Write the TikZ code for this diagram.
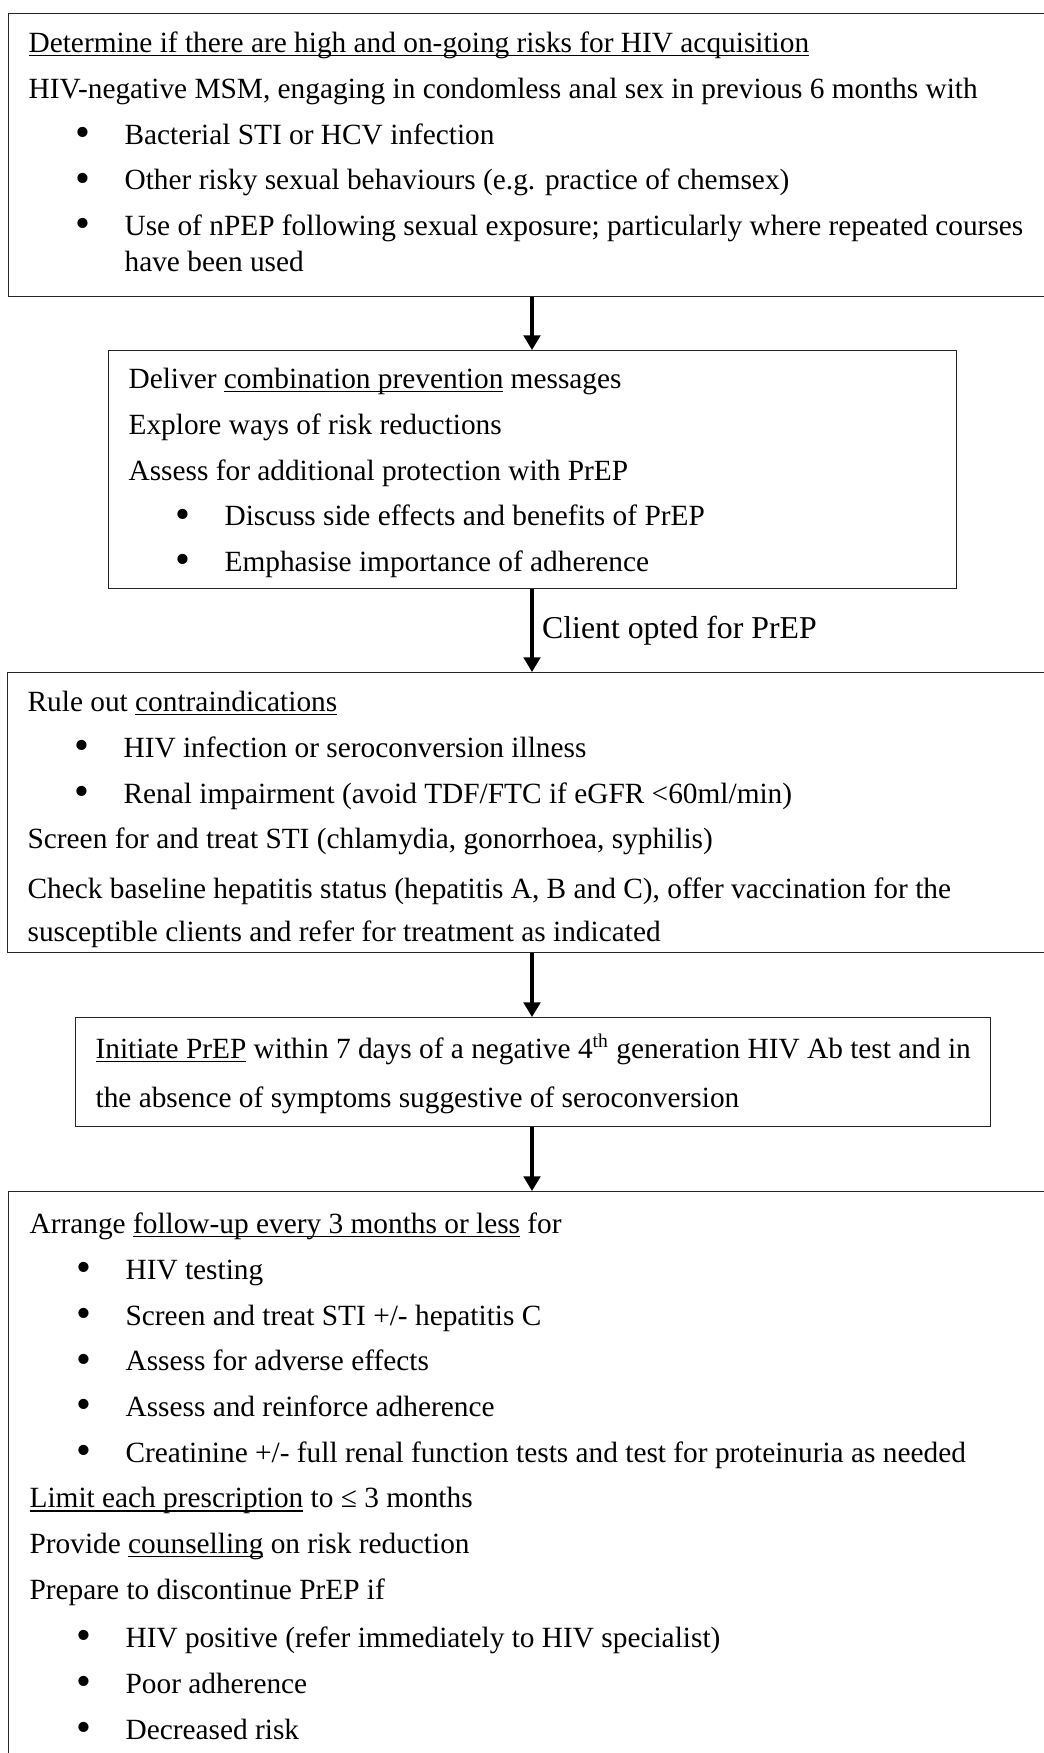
\documentclass[tikz,border=0pt]{standalone}
\usepackage{fontspec}
\usepackage{graphicx}
\setmainfont{Liberation Serif}
\usetikzlibrary{arrows.meta}

\newdimen\px
\px=0.409pt
\newsavebox{\textosub}
\newcommand{\subr}[1]{\sbox{\textosub}{#1}\rlap{\rule[-1.5pt]{\wd\textosub}{0.55pt}}\usebox{\textosub}}
\newcommand{\vineta}[1]{\hspace*{47\px}\makebox[49\px][l]{\raisebox{-0.08em}{\scalebox{1.45}{\textbullet}}}#1}

\begin{document}
\begin{tikzpicture}[x=0.409pt, y=-0.409pt,
    caja/.style={draw=black!85, line width=0.5pt, anchor=north west, inner sep=0pt,
        font=\fontsize{12}{18.7}\selectfont},
    flecha/.style={-{Triangle[length=6pt,width=6.8pt]}, line width=1.3pt}]
    % Fija el tamaño de la figura.
    \useasboundingbox (0,0) rectangle (1043,1753);

    % Eje vertical de las flechas.
    \coordinate (eje) at (532,0);

    % Caja de riesgos.
    \node[caja] (riesgo) at (8,13) {\parbox[t][283\px][t]{1052\px}{\leftskip=20\px
        \rule{0pt}{39\px}\subr{Determine if there are high and on-going risks for HIV acquisition}\\
        HIV-negative MSM, engaging in condomless anal sex in previous 6 months with\\
        \vineta{Bacterial STI or HCV infection}\\
        \vineta{Other risky sexual behaviours (e.g. practice of chemsex)}\\
        \vineta{Use of nPEP following sexual exposure; particularly where repeated courses}\\[-3.8pt]
        \hspace*{96\px}have been used}};

    % Caja de prevención.
    \node[caja] (consejo) at (108,350) {\parbox[t][238\px][t]{848\px}{\leftskip=20\px
        \rule{0pt}{38\px}Deliver \subr{combination prevention} messages\\
        Explore ways of risk reductions\\
        Assess for additional protection with PrEP\\
        \vineta{Discuss side effects and benefits of PrEP}\\
        \vineta{Emphasise importance of adherence}}};

    % Caja de contraindicaciones.
    \node[caja] (contra) at (7,672) {\parbox[t][280\px][t]{1053\px}{\leftskip=20\px
        \rule{0pt}{39\px}Rule out \subr{contraindications}\\
        \vineta{HIV infection or seroconversion illness}\\
        \vineta{Renal impairment (avoid TDF/FTC if eGFR <60ml/min)}\\
        Screen for and treat STI (chlamydia, gonorrhoea, syphilis)\\[1.6pt]
        Check baseline hepatitis status (hepatitis A, B and C), offer vaccination for the\\[-1.2pt]
        susceptible clients and refer for treatment as indicated}};

    % Caja de inicio.
    \node[caja] (inicio) at (75,1017) {\parbox[t][109\px][t]{915\px}{\leftskip=20\px
        \rule{0pt}{41\px}\subr{Initiate PrEP} within 7 days of a negative 4\textsuperscript{th} generation HIV Ab test and in\\[1.3pt]
        the absence of symptoms suggestive of seroconversion}};

    % Caja de seguimiento.
    \node[caja] (seguimiento) at (8,1191) {\parbox[t][590\px][t]{1052\px}{\leftskip=21\px
        \rule{0pt}{42\px}Arrange \subr{follow-up every 3 months or less} for\\
        \vineta{HIV testing}\\
        \vineta{Screen and treat STI +/- hepatitis C}\\
        \vineta{Assess for adverse effects}\\
        \vineta{Assess and reinforce adherence}\\
        \vineta{Creatinine +/- full renal function tests and test for proteinuria as needed}\\
        \subr{Limit each prescription} to ≤ 3 months\\
        Provide \subr{counselling} on risk reduction\\
        Prepare to discontinue PrEP if\\[1pt]
        \vineta{HIV positive (refer immediately to HIV specialist)}\\
        \vineta{Poor adherence}\\
        \vineta{Decreased risk}}};

    % Flechas entre cajas.
    \draw[flecha] (riesgo.south -| eje) -- (consejo.north -| eje);
    \draw[flecha] (consejo.south -| eje) -- (contra.north -| eje)
        node[pos=0.5, anchor=west, inner xsep=3.5pt, font=\fontsize{13}{16}\selectfont] (opcion) {Client opted for PrEP};
    \draw[flecha] (contra.south -| eje) -- (inicio.north -| eje);
    \draw[flecha] (inicio.south -| eje) -- (seguimiento.north -| eje);
\end{tikzpicture}
\end{document}
